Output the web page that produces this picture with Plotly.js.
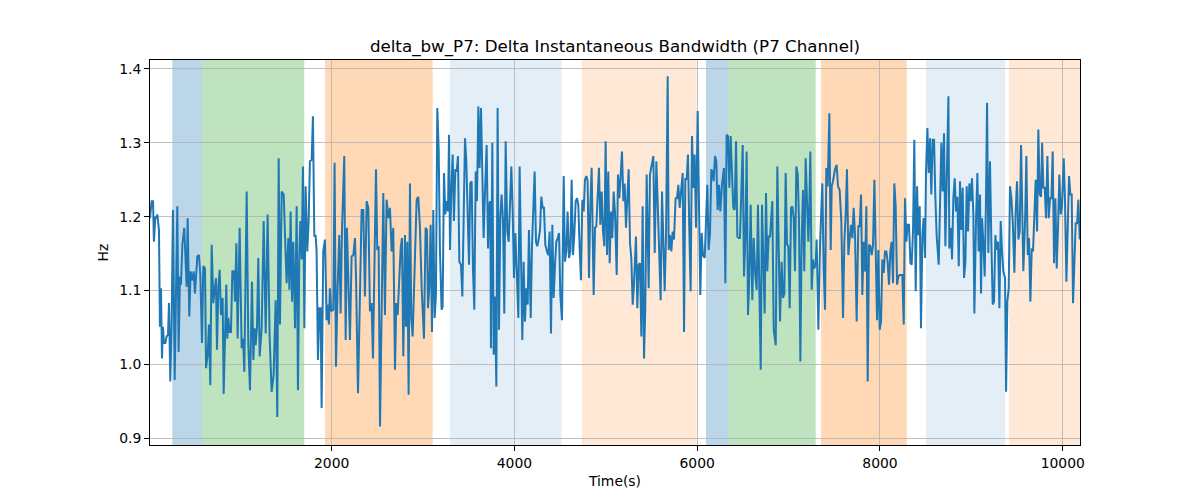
<!DOCTYPE html>
<html>
<head>
<meta charset="utf-8">
<script src="https://cdn.plot.ly/plotly-3.0.1.min.js"></script>
<style>
  html, body { margin: 0; padding: 0; background: #fff; }
  #chart { width: 1200px; height: 500px; }
</style>
</head>
<body>
<div id="chart"></div>
<script>
// Sample times (s)
var time = [
  12,30,45,55,70,81,92,110,121,132,
  143,154,165,180,194,209,220,234,249,263,
  282,296,311,325,340,351,366,387,413,424,
  442,457,475,490,504,530,548,563,581,595,
  614,625,643,657,672,687,705,723,734,745,
  760,774,789,807,818,847,858,869,884,898,
  913,931,942,957,971,993,1015,1030,1044,1070,
  1088,1106,1128,1143,1157,1168,1183,1197,1212,1234,
  1256,1278,1299,1321,1343,1365,1387,1405,1420,1434,
  1453,1475,1489,1507,1526,1537,1551,1566,1580,1599,
  1617,1631,1646,1657,1672,1686,1701,
  1715,1733,1748,1762,1781,1795,1810,1824,1835,1850,
  1865,1879,1890,1908,1927,1945,1956,1970,1981,1996,
  2018,2032,2047,2065,2083,2098,2113,2138,2153,2167,
  2186,2200,2218,2237,2255,2266,2288,2310,2328,2346,
  2364,2383,2401,2419,2437,2452,2470,2485,2499,2514,
  2529,2547,2565,2583,2601,2620,2638,2656,2674,2693,
  2707,2722,2736,2755,2769,2784,2802,2813,2828,2842,
  2857,2871,2886,2901,2915,2930,2948,2966,2985,2995,
  3010,3028,3043,3054,3068,3083,3098,3112,3127,3141,
  3156,3171,3185,3203,3214,3229,3244,3258,3273,3284,
  3295,3309,3324,3338,3353,3368,3382,3397,
  3415,3430,3444,3459,3473,3488,3503,3517,3532,3546,
  3561,3576,3590,3605,3619,3634,3649,3663,3678,3696,
  3711,3725,3736,3743,3758,3773,3787,3802,3816,3831,
  3846,3860,3875,3889,3904,3922,3937,3951,3966,3981,
  3995,4010,4024,4043,4057,4072,4086,4101,4115,4130,
  4145,4159,4178,4192,4207,4221,4236,4250,4265,4280,
  4294,4309,4323,4338,4356,4371,4385,4400,4415,4429,
  4444,4458,4473,4488,4502,4520,4539,4553,4568,4582,
  4597,4612,4626,4641,4655,4670,4685,4699,4714,4728,
  4743,4758,4772,4787,4801,4816,4830,4845,4867,4882,
  4896,4911,4925,4940,4955,4969,4984,4998,5013,5027,
  5042,5057,5071,5086,5100,
  5119,5133,5148,5162,5177,5192,5206,5221,5235,5250,
  5265,5279,5294,5308,5330,5345,5359,5374,5389,5403,
  5418,5432,5447,5469,5483,5502,5520,5535,5553,5567,
  5586,5600,5615,5629,5644,5659,5677,5688,5702,5717,
  5731,5746,5764,5779,5794,5808,5823,5841,5856,5870,
  5885,5899,5914,5928,5943,5958,5972,5987,6005,6023,
  6034,6049,6063,6082,6096,6111,6125,6140,6155,6169,
  6180,6195,6209,6224,6239,6253,6271,6293,6308,6322,
  6337,6352,6366,6381,6395,6410,6425,6439,6454,6468,
  6483,6498,6512,6527,6541,6556,6571,6585,6603,6618,
  6636,6651,6665,6680,6695,6709,6724,6738,6753,6767,
  6782,6797,
  6808,6822,6837,6859,6877,6895,6906,6924,6939,6954,
  6968,6983,6997,7012,7027,7041,7056,7070,7085,7100,
  7114,7129,7143,7158,7172,7187,7202,7216,7224,7238,
  7253,7267,7282,7297,7307,7326,7344,7355,7369,7384,
  7399,7413,7428,7446,7461,7472,7486,7508,7526,7541,
  7559,7577,7596,7610,7625,7639,7654,7669,7683,7698,
  7712,7727,7745,7763,7778,7793,7807,7822,7836,7851,
  7866,7880,7895,7909,7924,7939,7953,7968,7982,7997,
  8012,8026,8041,8055,8070,8084,8099,8114,8128,8143,
  8157,8172,8187,8201,8216,8230,8245,8260,8274,8289,
  8303,8318,8333,8347,8362,8376,8391,8406,8420,8435,
  8449,8464,8478,8493,
  8504,8519,8533,8548,8562,8577,8592,8606,8621,8643,
  8657,8672,8686,8701,8716,8730,8749,8759,8774,8789,
  8803,8818,8832,8847,8862,8876,8891,8905,8920,8935,
  8949,8964,8978,8993,9007,9022,9033,9051,9066,9080,
  9095,9106,9117,9132,9146,9161,9172,9186,9204,9219,
  9234,9248,9263,9277,9292,9307,9321,9336,9350,9369,
  9380,9394,9409,9423,9438,9453,9471,9485,9500,9515,
  9529,9544,9558,9569,9588,9602,9617,9631,9646,9661,
  9675,9690,9704,9719,9733,9748,9763,9774,9788,9803,
  9817,9832,9847,9861,9876,9890,9905,9920,9934,9949,
  9963,9978,9992,10011,10025,10040,10055,10069,10084,10098,
  10113,10127,10142,10157,10171,10186
];

// delta_bw_P7 values (Hz)
var deltaBw = [
  1.198,1.221,1.221,1.166,1.200,1.198,1.203,1.182,1.051,1.103,
  1.008,1.051,1.029,1.029,1.038,1.040,1.083,0.977,1.058,1.209,
  0.979,1.103,1.214,1.017,1.119,1.108,1.162,1.185,1.105,1.198,
  1.065,1.126,1.114,1.126,1.096,1.146,1.148,1.121,1.029,1.133,
  1.130,0.995,1.013,1.054,0.972,1.162,1.083,1.105,1.117,1.020,
  1.103,1.128,1.067,1.090,0.960,1.108,1.035,1.063,1.044,1.044,
  1.126,1.126,1.085,1.164,1.035,1.185,1.022,1.035,0.990,1.234,
  1.026,0.965,1.112,1.006,1.049,1.026,1.051,1.144,1.011,1.049,
  1.194,1.042,1.203,1.038,0.963,0.986,1.087,0.929,1.279,1.054,
  1.234,1.230,1.169,1.110,1.171,1.101,1.207,1.085,1.166,1.049,
  1.214,0.965,1.148,1.194,1.142,1.268,1.049,
  1.241,1.153,1.194,1.275,1.277,1.336,1.173,1.175,1.153,1.006,
  1.076,1.076,0.941,1.153,1.169,1.060,1.081,1.054,1.103,1.072,
  1.074,1.273,0.997,1.103,1.175,1.069,1.182,1.282,1.033,1.185,
  1.103,1.033,1.146,1.148,1.171,1.121,0.961,1.126,1.209,1.209,
  1.092,1.221,1.212,1.072,1.083,1.008,1.126,1.264,1.155,1.160,
  0.916,1.067,1.232,1.067,1.223,1.198,1.212,1.153,1.185,0.993,
  1.083,1.067,1.103,1.157,1.171,1.011,1.175,1.051,1.166,0.959,
  1.245,1.063,1.038,1.099,1.180,1.223,1.227,1.185,1.103,1.078,
  1.035,1.185,1.182,1.076,1.103,1.189,1.044,1.209,1.063,1.094,
  1.347,1.291,1.153,1.074,1.078,1.259,1.203,1.221,1.207,1.311,
  1.155,1.234,1.284,1.194,1.264,1.261,1.282,1.139,
  1.135,1.092,1.212,1.306,1.277,1.212,1.135,1.245,1.248,1.130,
  1.074,1.261,1.221,1.349,1.266,1.347,1.270,1.171,1.234,1.297,
  1.157,1.218,1.221,1.022,1.300,1.013,1.092,0.970,1.347,1.047,
  1.200,1.230,1.194,1.069,1.302,1.180,1.166,1.221,1.268,1.207,
  1.117,1.178,1.126,1.063,1.268,1.103,1.033,1.139,1.058,1.103,
  1.081,1.182,1.063,1.160,1.225,1.261,1.166,1.160,1.169,1.182,
  1.227,1.212,1.212,1.162,1.153,1.148,1.180,1.042,1.189,1.090,
  1.135,1.166,1.171,1.178,1.094,1.060,1.255,1.139,1.153,1.207,
  1.144,1.153,1.250,1.148,1.175,1.221,1.225,1.216,1.157,1.114,
  1.223,1.207,1.250,1.255,1.248,1.117,1.212,1.266,1.094,1.185,
  1.187,1.230,1.266,1.189,1.234,1.180,1.160,1.302,1.148,1.261,
  1.137,1.207,1.171,1.234,1.207,
  1.121,1.257,1.225,1.250,1.288,1.221,1.245,1.185,1.221,1.264,
  1.164,1.144,1.081,1.108,1.173,1.076,1.135,1.137,1.038,1.214,
  1.008,1.076,1.257,1.103,1.257,1.270,1.282,1.151,1.275,1.221,
  1.157,1.087,1.234,1.166,1.099,1.175,1.390,1.155,1.175,1.153,
  1.180,1.169,1.225,1.225,1.243,1.212,1.230,1.259,1.044,1.252,
  1.250,1.284,1.180,1.099,1.309,1.239,1.284,1.185,1.343,1.189,
  1.094,1.178,1.148,1.144,1.194,1.243,1.155,1.178,1.264,1.259,
  1.248,1.282,1.275,1.209,1.243,1.207,1.243,1.266,1.110,1.311,
  1.309,1.239,1.309,1.243,1.212,1.209,1.302,1.173,1.171,1.171,
  1.225,1.297,1.119,1.171,1.288,1.067,1.121,1.216,1.087,1.171,
  1.121,1.101,1.216,1.126,0.993,1.216,1.117,1.069,1.232,1.126,
  1.173,1.173,
  1.194,1.221,1.047,1.026,1.268,1.162,1.058,1.139,1.090,1.096,
  1.259,1.162,1.160,1.076,1.212,1.214,1.198,1.126,1.268,1.257,
  1.194,1.004,1.166,1.236,1.126,1.279,1.209,1.166,1.194,1.288,
  1.101,1.142,1.130,1.137,1.169,1.047,1.162,1.214,1.245,1.130,
  1.074,1.266,1.241,1.340,1.155,1.241,1.248,1.264,1.270,1.241,
  1.236,1.194,1.063,1.166,1.203,1.264,1.148,1.171,1.189,1.171,
  1.212,1.175,1.058,1.187,1.187,1.230,1.094,1.166,1.126,1.214,
  0.977,1.162,1.160,1.148,1.162,1.250,1.155,1.060,1.155,1.047,
  1.058,1.142,1.124,1.153,1.153,1.139,1.108,1.153,1.166,1.110,
  1.245,1.214,1.108,1.119,1.121,1.121,1.121,1.054,1.225,1.166,
  1.189,1.189,1.137,1.135,1.182,1.304,1.099,1.241,1.175,1.214,
  1.049,1.175,1.198,1.144,
  1.261,1.320,1.259,1.306,1.230,1.304,1.304,1.227,1.173,1.135,
  1.216,1.300,1.234,1.313,1.160,1.266,1.363,1.157,1.185,1.142,
  1.225,1.252,1.207,1.227,1.133,1.248,1.182,1.239,1.117,1.139,
  1.241,1.180,1.245,1.221,1.252,1.203,1.069,1.194,1.259,1.153,
  1.230,1.096,1.198,1.164,1.119,1.230,1.354,1.151,1.275,1.166,
  1.081,1.085,1.175,1.155,1.166,1.076,1.194,1.153,1.126,1.117,
  0.963,1.085,1.103,1.241,1.225,1.194,1.124,1.207,1.248,1.169,
  1.180,1.297,1.185,1.126,1.194,1.282,1.148,1.171,1.085,1.157,
  1.153,1.194,1.250,1.180,1.318,1.230,1.227,1.300,1.239,1.239,
  1.198,1.282,1.198,1.225,1.225,1.288,1.137,1.225,1.130,1.187,
  1.257,1.203,1.214,1.279,1.221,1.112,1.203,1.255,1.230,1.230,
  1.083,1.153,1.191,1.191,1.223,1.169
];

// Shaded phases (start / end in seconds) and their kind
var spanStart = [256, 580, 1927, 3295, 4739, 6096, 6341, 7355, 8504, 9413];
var spanEnd   = [580, 1700, 3105, 4517, 5994, 6341, 7297, 8293, 9369, 10189];
var spanKind  = ['blue', 'green', 'orange', 'lightblue', 'lightorange',
                 'blue', 'green', 'orange', 'lightblue', 'lightorange'];

var xRange = [12, 10189];
var yRange = [0.891, 1.412];

var spanFill = {
    blue: 'rgba(31,119,180,0.3)',
    green: 'rgba(44,160,44,0.3)',
    orange: 'rgba(255,127,14,0.3)',
    lightblue: 'rgba(31,119,180,0.12)',
    lightorange: 'rgba(255,127,14,0.17)'
};

var font = "'DejaVu Sans', sans-serif";

var shapes = spanStart.map(function(s, i) {
    return {
        type: 'rect',
        xref: 'x', yref: 'paper',
        x0: s, x1: spanEnd[i],
        y0: 0, y1: 1,
        fillcolor: spanFill[spanKind[i]],
        line: { width: 0 },
        layer: 'below'
    };
});

var trace = {
    x: time,
    y: deltaBw,
    type: 'scatter',
    mode: 'lines',
    line: { color: '#1f77b4', width: 2 },
    hoverinfo: 'x+y'
};

var axisStyle = {
    showgrid: true,
    gridcolor: '#b0b0b0',
    gridwidth: 0.8,
    zeroline: false,
    showline: true,
    linecolor: '#000',
    linewidth: 1,
    mirror: true,
    ticks: 'outside',
    ticklen: 5,
    tickwidth: 1,
    tickcolor: '#000',
    tickfont: { family: font, size: 13.9, color: '#000' }
};

var layout = {
    width: 1200,
    height: 500,
    margin: { l: 150, r: 120, t: 60, b: 55 },
    paper_bgcolor: '#fff',
    plot_bgcolor: '#fff',
    showlegend: false,
    font: { family: font, color: '#000' },
    title: {
        text: 'delta_bw_P7: Delta Instantaneous Bandwidth (P7 Channel)',
        font: { family: font, size: 16.7, color: '#000' },
        x: 0.5, xref: 'paper',
        y: 0.908, yref: 'container', yanchor: 'middle'
    },
    xaxis: Object.assign({}, axisStyle, {
        range: xRange,
        tick0: 0,
        dtick: 2000,
        tickformat: 'd',
        title: { text: 'Time(s)', font: { family: font, size: 13.9 }, standoff: 6 }
    }),
    yaxis: Object.assign({}, axisStyle, {
        range: yRange,
        tick0: 0.9,
        dtick: 0.1,
        tickformat: '.1f',
        title: { text: 'Hz', font: { family: font, size: 13.9 }, standoff: 7 }
    }),
    shapes: shapes
};

Plotly.newPlot('chart', [trace], layout, { displayModeBar: false, staticPlot: true });
</script>
</body>
</html>
